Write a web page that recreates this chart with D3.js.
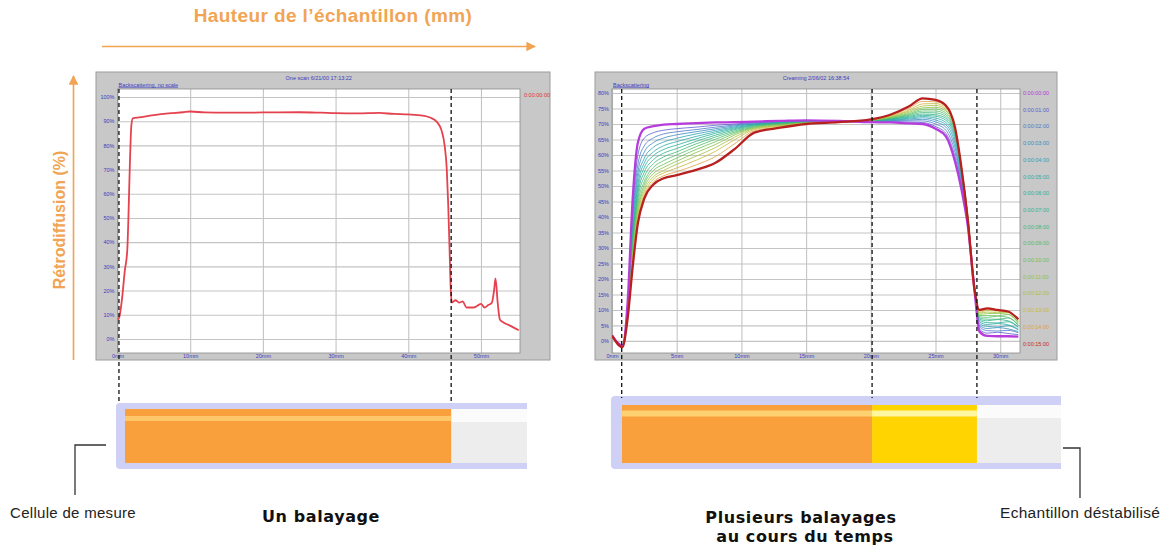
<!DOCTYPE html>
<html>
<head>
<meta charset="utf-8">
<script src="https://cdn.jsdelivr.net/npm/d3@7"></script>
<style>
  body { margin: 0; background: #fff; }
  svg { display: block; }
</style>
</head>
<body>
<div id="figure"></div>
<script>
// ---- one scan (left chart) ----
const scanMm  = [0, 0.2, 0.6, 1.0, 1.35, 1.5, 1.7, 1.9, 2.1, 3, 5, 7, 9, 10, 12, 15, 20, 25, 28, 30, 33, 36, 38, 40, 42, 43, 44, 44.6, 45, 45.3, 45.5, 45.7, 45.85, 46, 46.5, 47, 47.5, 48, 49, 50, 50.5, 51, 51.5, 51.8, 52, 52.3, 52.6, 53, 54, 55.2];
const scanPct = [8, 8.5, 16, 28, 37, 50, 72, 88, 91.2, 91.6, 92.5, 93.2, 93.7, 94, 93.6, 93.5, 93.6, 93.7, 93.5, 93.3, 93.2, 93.4, 93, 92.8, 92.3, 91.5, 89.5, 86, 80, 70, 55, 35, 20, 15, 16, 15, 15.5, 13, 13, 14.5, 13, 14, 15, 20, 25, 15, 8, 7, 5.5, 3.6];
const scanLabel = "0:00:00:00";
const scanMarks = [0.2, 45.9];          // dashed lines (mm)

// ---- several scans over time (right chart) ----
const multiMm = [0, 0.8, 1.2, 1.6, 2.0, 2.5, 3.2, 4, 5, 6.5, 8, 9.5, 11, 13, 15, 17.5, 20, 21.5, 23, 24, 25, 25.8, 26.5, 27, 27.5, 28, 28.4, 29, 29.8, 30.6, 31.4];
const multiTimes = ["0:00:00:00", "0:00:01:00", "0:00:02:00", "0:00:03:00", "0:00:04:00", "0:00:05:00", "0:00:06:00", "0:00:07:00",
                    "0:00:08:00", "0:00:09:00", "0:00:10:00", "0:00:11:00", "0:00:12:00", "0:00:13:00", "0:00:14:00", "0:00:15:00"];
const multiPct = [
  [1.8, -1.5, 12, 46, 64, 68.5, 69.3, 69.8, 70, 70.3, 70.5, 70.6, 70.8, 71, 71.2, 71, 70.6, 70.5, 70.2, 70, 68.5, 66, 58, 49, 37, 17, 3, 1.6, 1.5, 1.5, 1.4],
  [1.7, -1.6, 11, 42, 60, 65.5, 67.2, 68, 68.5, 69, 69.6, 70, 70.5, 70.8, 71.1, 71, 70.7, 70.8, 70.6, 70.5, 69.2, 67, 59.5, 50, 37.5, 17, 3.8, 2.5, 2.8, 2.4, 2],
  [1.7, -1.6, 10.5, 40, 57, 63, 65.5, 66.8, 67.5, 68.2, 69, 69.7, 70.3, 70.7, 71, 70.9, 70.8, 71, 71, 71, 70, 68, 61, 51, 38, 17.2, 4.5, 3.3, 3.2, 3.4, 2.6],
  [1.7, -1.7, 10, 38, 54.5, 61, 64, 65.5, 66.5, 67.5, 68.5, 69.4, 70.1, 70.6, 70.9, 70.9, 70.8, 71.1, 71.3, 71.5, 70.7, 69, 62.5, 52, 38.5, 17.3, 5, 4, 4.3, 3.9, 3],
  [1.7, -1.7, 9.5, 36, 52.5, 59, 62.5, 64.2, 65.4, 66.8, 68, 69.1, 70, 70.5, 70.8, 70.8, 70.9, 71.3, 71.6, 72, 71.3, 69.8, 63.8, 53, 39, 17.5, 5.6, 4.7, 4.5, 4.9, 3.5],
  [1.7, -1.8, 9, 34.5, 50.5, 57.5, 61, 63, 64.3, 66, 67.5, 68.8, 69.8, 70.4, 70.7, 70.8, 70.9, 71.4, 71.9, 72.4, 71.9, 70.5, 65, 54, 39.3, 17.6, 6.1, 5.3, 5.6, 5.2, 3.8],
  [1.7, -1.8, 9, 33, 49, 56, 59.8, 61.8, 63.2, 65.2, 67, 68.5, 69.7, 70.3, 70.6, 70.8, 71, 71.5, 72.2, 72.8, 72.5, 71.2, 66, 54.8, 39.6, 17.7, 6.6, 5.9, 5.8, 6.2, 4.3],
  [1.7, -1.8, 8.5, 32, 47.5, 54.5, 58.5, 60.6, 62.1, 64.4, 66.4, 68.2, 69.5, 70.2, 70.6, 70.7, 71, 71.6, 72.5, 73.2, 73, 71.8, 66.8, 55.4, 39.8, 17.8, 7, 6.5, 6.9, 6.5, 4.6],
  [1.7, -1.9, 8.5, 31, 46, 53, 57.2, 59.4, 61, 63.6, 65.8, 67.8, 69.3, 70.1, 70.5, 70.7, 71.1, 71.8, 72.8, 73.7, 73.6, 72.4, 67.4, 55.8, 40, 17.8, 7.4, 7, 7, 7.4, 5],
  [1.7, -1.9, 8, 30, 44.5, 51.5, 56, 58.2, 60, 62.7, 65.1, 67.4, 69.1, 70, 70.4, 70.7, 71.1, 71.9, 73.1, 74.2, 74.2, 73, 67.9, 56.1, 40, 17.8, 7.8, 7.6, 8, 7.6, 5.3],
  [1.7, -1.9, 8, 29, 43, 50.5, 55, 57, 59, 61.8, 64.3, 67, 68.9, 69.8, 70.4, 70.6, 71.2, 72.1, 73.4, 74.7, 74.8, 73.6, 68.3, 56.3, 40, 17.7, 8.2, 8.2, 8.1, 8.5, 5.7],
  [1.7, -2, 7.5, 28, 42, 49.5, 54, 56, 58, 60.8, 63.4, 66.5, 68.7, 69.6, 70.3, 70.6, 71.2, 72.2, 73.8, 75.2, 75.4, 74.2, 68.6, 56.4, 39.8, 17.6, 8.6, 8.8, 8.9, 8.6, 6],
  [1.7, -2, 7.5, 27, 41, 48.5, 53, 55, 57, 59.6, 62.4, 65.8, 68.5, 69.5, 70.2, 70.6, 71.3, 72.4, 74.2, 75.8, 76, 74.7, 68.8, 56.3, 39.6, 17.5, 9, 9.3, 9.1, 9.2, 6.3],
  [1.7, -2, 7, 26, 40, 47.5, 52.2, 54.2, 55.8, 58.3, 61.2, 65, 68.2, 69.3, 70.2, 70.6, 71.3, 72.6, 74.6, 76.5, 76.6, 75.2, 68.9, 56.2, 39.4, 17.3, 9.3, 9.8, 9.6, 9.3, 6.6],
  [1.7, -2, 7, 25, 39, 46.8, 51.3, 53.3, 54.6, 56.8, 59.5, 63.7, 67.8, 69, 70.1, 70.6, 71.4, 72.8, 75.2, 77.3, 77.2, 75.6, 69, 56.1, 39.2, 17.2, 9.7, 10.2, 9.8, 9.6, 6.8],
  [1.7, -2, 7, 24, 38, 46, 50.5, 52.5, 53.5, 55.2, 57.5, 62, 67.2, 68.8, 70, 70.6, 71.5, 73, 75.8, 78.3, 77.8, 76, 69, 56, 39, 17, 10, 10.5, 10, 9.5, 7]
];
const multiColors = ["#b63cdc", "#5a5cd0", "#4a78c8", "#3a8cc0", "#30a0b8", "#28aaa8", "#28b098", "#30b488",
                     "#40b878", "#50bc68", "#68c058", "#88c448", "#a8c040", "#c8b838", "#e0a040", "#c82828"];
const multiMarks = [0.75, 20.1, 28.2];

// tick values
const leftTicksX  = [0, 10, 20, 30, 40, 50];
const leftTicksY  = [0, 10, 20, 30, 40, 50, 60, 70, 80, 90, 100];
const rightTicksX = [0, 5, 10, 15, 20, 25, 30];
const rightTicksY = [0, 5, 10, 15, 20, 25, 30, 35, 40, 45, 50, 55, 60, 65, 70, 75, 80];

const orange = "#f1a452";
const blue = "#3c3cc0";

const svg = d3.select("#figure").append("svg")
  .attr("width", 1166)
  .attr("height", 556)
  .style("font-family", "'Liberation Sans', Arial, sans-serif");

// arrow markers
svg.append("defs").append("marker")
    .attr("id", "arrow")
    .attr("viewBox", "0 0 10 10")
    .attr("refX", 9).attr("refY", 5)
    .attr("markerWidth", 6).attr("markerHeight", 6)
    .attr("orient", "auto")
  .append("path")
    .attr("d", "M0,0 L10,5 L0,10 Z")
    .attr("fill", orange);

// big axis titles
svg.append("text")
  .attr("x", 333).attr("y", 22)
  .attr("text-anchor", "middle")
  .attr("fill", orange)
  .style("font-size", "19px").style("font-weight", "bold").style("letter-spacing", "0.4px")
  .text("Hauteur de l\u2019échantillon (mm)");
svg.append("line")
  .attr("x1", 102).attr("y1", 46.5).attr("x2", 535).attr("y2", 46.5)
  .attr("stroke", orange).attr("stroke-width", 1.6)
  .attr("marker-end", "url(#arrow)");

svg.append("text")
  .attr("transform", "translate(65,220) rotate(-90)")
  .attr("text-anchor", "middle")
  .attr("fill", orange)
  .style("font-size", "16px").style("font-weight", "bold")
  .text("Rétrodiffusion (%)");
svg.append("line")
  .attr("x1", 73.5).attr("y1", 360).attr("x2", 73.5).attr("y2", 76)
  .attr("stroke", orange).attr("stroke-width", 1.6)
  .attr("marker-end", "url(#arrow)");

function drawPanel(p) {
  const g = svg.append("g");
  g.append("rect")
    .attr("x", p.frame[0]).attr("y", p.frame[1])
    .attr("width", p.frame[2]).attr("height", p.frame[3])
    .attr("fill", "#c8c8c8").attr("stroke", "#9c9c9c");

  const x = d3.scaleLinear().domain(p.xDomain).range([p.plot[0], p.plot[0] + p.plot[2]]);
  const y = d3.scaleLinear().domain(p.yDomain).range([p.plot[1] + p.plot[3], p.plot[1]]);

  g.append("rect")
    .attr("x", p.plot[0]).attr("y", p.plot[1])
    .attr("width", p.plot[2]).attr("height", p.plot[3])
    .attr("fill", "#fff");

  const gy = g.append("g")
    .attr("transform", `translate(${p.plot[0]},0)`)
    .call(d3.axisLeft(y).tickValues(p.ticksY).tickSize(-p.plot[2]).tickPadding(3).tickFormat(d => d + "%"));
  const gx = g.append("g")
    .attr("transform", `translate(0,${p.plot[1] + p.plot[3]})`)
    .call(d3.axisBottom(x).tickValues(p.ticksX).tickSize(-p.plot[3]).tickPadding(1).tickFormat(d => d + "mm"));
  [gx, gy].forEach(a => {
    a.select(".domain").remove();
    a.selectAll(".tick line").attr("stroke", "#c4c4c4").attr("stroke-width", 1.1);
    a.selectAll(".tick text").attr("fill", blue).style("font-size", "5.5px")
      .style("font-family", "'Liberation Sans', Arial, sans-serif");
  });

  g.append("rect")
    .attr("x", p.plot[0]).attr("y", p.plot[1])
    .attr("width", p.plot[2]).attr("height", p.plot[3])
    .attr("fill", "none").attr("stroke", "#8a8a8a").attr("stroke-width", 0.8);

  g.append("text")
    .attr("x", (p.plot[0] + p.plot[0] + p.plot[2]) / 2).attr("y", 79.5)
    .attr("text-anchor", "middle").attr("fill", blue)
    .style("font-size", "5.5px").text(p.title);
  g.append("text")
    .attr("x", p.plot[0] + 1).attr("y", 86.5)
    .attr("fill", blue).style("font-size", "5.5px")
    .attr("text-decoration", "underline").text(p.subtitle);

  const clipId = p.id + "-clip";
  g.append("clipPath").attr("id", clipId).append("rect")
    .attr("x", p.plot[0]).attr("y", p.plot[1])
    .attr("width", p.plot[2]).attr("height", p.plot[3]);

  return { g, x, y, clip: `url(#${clipId})` };
}

function drawTube(p, x, marks) {
  const t = p.tube;
  const g = svg.append("g");
  // lavender outer cell
  g.append("path")
    .attr("d", `M${t.right},${t.top} L${t.left + 4},${t.top} Q${t.left},${t.top} ${t.left},${t.top + 4}
                L${t.left},${t.bottom - 4} Q${t.left},${t.bottom} ${t.left + 4},${t.bottom} L${t.right},${t.bottom} Z`)
    .attr("fill", "#cfd0f6");
  // empty part of the cell
  g.append("rect").attr("x", t.fillStart).attr("y", t.innerTop)
    .attr("width", t.right - t.fillStart).attr("height", t.innerBottom - t.innerTop)
    .attr("fill", "#ededed");
  g.append("rect").attr("x", t.fillStart).attr("y", t.innerTop)
    .attr("width", t.right - t.fillStart).attr("height", t.grayTop - t.innerTop)
    .attr("fill", "#fbfbfb");
  // sample zones
  const edges = [t.fillStart].concat(marks.slice(1).map(m => x(m)));
  for (let i = 0; i < edges.length - 1; i++) {
    g.append("rect").attr("x", edges[i]).attr("y", t.innerTop)
      .attr("width", edges[i + 1] - edges[i]).attr("height", t.innerBottom - t.innerTop)
      .attr("fill", t.zoneColors[i]);
    g.append("rect").attr("x", edges[i]).attr("y", t.stripe[0])
      .attr("width", edges[i + 1] - edges[i]).attr("height", t.stripe[1] - t.stripe[0])
      .attr("fill", t.stripeColors[i]);
  }
}

function drawMarks(x, marks, y0, y1) {
  svg.append("g").selectAll("line").data(marks).join("line")
    .attr("x1", d => x(d)).attr("x2", d => x(d))
    .attr("y1", y0).attr("y2", y1)
    .attr("stroke", "#111").attr("stroke-width", 1.3)
    .attr("stroke-dasharray", "4,3");
}

// ---- left panel ----
const left = {
  id: "left",
  frame: [96, 72, 454, 288],
  plot: [117.5, 89, 402.5, 264],
  xDomain: [0, 55.37], yDomain: [-5.8, 103.3],
  ticksX: leftTicksX, ticksY: leftTicksY,
  title: "One scan 6/21/00 17:13:22", subtitle: "Backscattering, no scale",
  tube: { left: 116, right: 527, top: 403, bottom: 469, fillStart: 125, innerTop: 409, innerBottom: 463,
          grayTop: 422, stripe: [416, 421], zoneColors: ["#f9a03c"], stripeColors: ["#fdc76a"] }
};
const L = drawPanel(left);
L.g.append("path")
  .datum(scanMm.map((m, i) => [m, scanPct[i]]))
  .attr("clip-path", L.clip)
  .attr("fill", "none").attr("stroke", "#e4424e").attr("stroke-width", 1.8)
  .attr("d", d3.line().x(d => L.x(d[0])).y(d => L.y(d[1])).curve(d3.curveMonotoneX));
L.g.append("text").attr("x", 524).attr("y", 97)
  .attr("fill", "#e03030").style("font-size", "5.5px").text(scanLabel);
drawTube(left, L.x, scanMarks);
drawMarks(L.x, scanMarks, 89, 403);

// ---- right panel ----
const right = {
  id: "right",
  frame: [595, 72, 462, 288],
  plot: [612, 89, 408, 264],
  xDomain: [0, 31.53], yDomain: [-3.9, 81.3],
  ticksX: rightTicksX, ticksY: rightTicksY,
  title: "Creaming 2/06/02 16:38:54", subtitle: "Backscattering",
  tube: { left: 611, right: 1061, top: 396, bottom: 469, fillStart: 622, innerTop: 405, innerBottom: 463,
          grayTop: 418, stripe: [410.5, 416.5], zoneColors: ["#f9a03c", "#ffd400"], stripeColors: ["#fdd070", "#fff6a0"] }
};
const R = drawPanel(right);
const line = d3.line().x(d => R.x(d[0])).y(d => R.y(d[1])).curve(d3.curveMonotoneX);
const order = d3.range(1, multiPct.length - 1).concat([0, multiPct.length - 1]);
R.g.append("g").attr("clip-path", R.clip)
  .selectAll("path").data(order).join("path")
    .attr("fill", "none")
    .attr("stroke", i => i === multiPct.length - 1 ? "#b82020" : multiColors[i])
    .attr("stroke-width", i => (i === 0 || i === multiPct.length - 1) ? 2.3 : 0.8)
    .attr("d", i => line(multiMm.map((m, j) => [m, multiPct[i][j]])));
R.g.append("g").selectAll("text").data(multiTimes).join("text")
  .attr("x", 1023).attr("y", (d, i) => 95 + i * 16.7)
  .attr("fill", (d, i) => multiColors[i]).style("font-size", "5.5px")
  .text(d => d);
drawTube(right, R.x, multiMarks);
drawMarks(R.x, multiMarks, 89, 398);

// ---- captions ----
svg.append("path").attr("d", "M106,445 H75 V495")
  .attr("fill", "none").attr("stroke", "#333").attr("stroke-width", 1.3);
svg.append("text").attr("x", 10).attr("y", 518)
  .attr("fill", "#222").style("font-size", "15px").style("letter-spacing", "0.3px").text("Cellule de mesure");

svg.append("path").attr("d", "M1063,448 H1080 V498")
  .attr("fill", "none").attr("stroke", "#333").attr("stroke-width", 1.3);
svg.append("text").attr("x", 1000).attr("y", 518)
  .attr("fill", "#222").style("font-size", "15.5px").style("letter-spacing", "0.3px").text("Echantillon déstabilisé");

const bold = { "font-size": "16px", "font-weight": "bold", "letter-spacing": "0.6px", "font-family": "'DejaVu Sans', Verdana, sans-serif" };
function boldText(x, y, s) {
  const t = svg.append("text").attr("x", x).attr("y", y).attr("text-anchor", "middle").attr("fill", "#111").text(s);
  Object.entries(bold).forEach(([k, v]) => t.style(k, v));
}
boldText(321, 522, "Un balayage");
boldText(801, 523, "Plusieurs balayages");
boldText(805, 542, "au cours du temps");
</script>
</body>
</html>
